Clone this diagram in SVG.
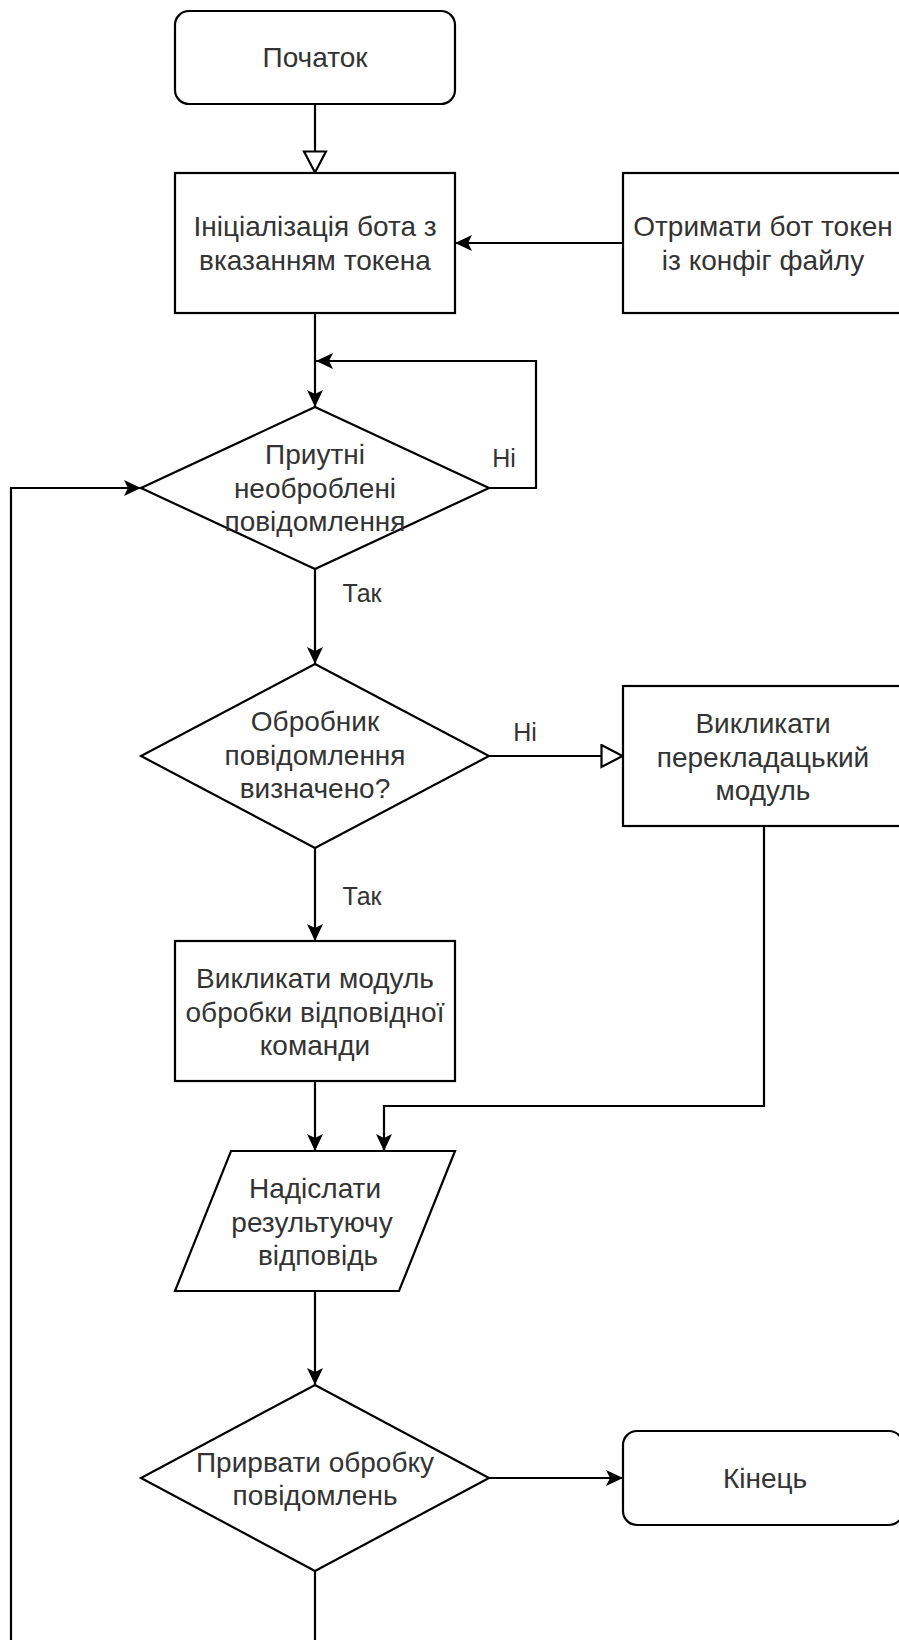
<svg xmlns="http://www.w3.org/2000/svg" width="899" height="1640" viewBox="0 0 899 1640">
<defs>
<style>
.shape{fill:#fff;stroke:#000;stroke-width:2.2}
.t{font-family:"Liberation Sans",Arial,sans-serif;font-size:28px;fill:#333;text-anchor:middle}
.lbl{font-family:"Liberation Sans",Arial,sans-serif;font-size:25px;fill:#333;text-anchor:middle}
.edge{fill:none;stroke:#000;stroke-width:2.2}
</style>
<marker id="arr" markerUnits="userSpaceOnUse" markerWidth="18" markerHeight="17" refX="17" refY="8" orient="auto">
<path d="M0,0 L17,8 L0,16 L4,8 Z" fill="#000"/>
</marker>
<marker id="hollow" markerUnits="userSpaceOnUse" markerWidth="25" markerHeight="26" refX="23" refY="12.5" orient="auto">
<path d="M1.5,1.5 L22.5,12.5 L1.5,23.5 Z" fill="#fff" stroke="#000" stroke-width="2.2"/>
</marker>
</defs>
<rect width="899" height="1640" fill="#fff"/>

<g id="connectors">
<path class="edge" d="M315,104 L315,173" marker-end="url(#hollow)"/>
<path class="edge" d="M623,243 L455,243" marker-end="url(#arr)"/>
<path class="edge" d="M315,313 L315,407" marker-end="url(#arr)"/>
<path class="edge" d="M489,488 L536,488 L536,361 L316,361" marker-end="url(#arr)"/>
<path class="edge" d="M315,569 L315,664" marker-end="url(#arr)"/>
<path class="edge" d="M489,756 L623,756" marker-end="url(#hollow)"/>
<path class="edge" d="M315,848 L315,941" marker-end="url(#arr)"/>
<path class="edge" d="M315,1081 L315,1151" marker-end="url(#arr)"/>
<path class="edge" d="M764,826 L764,1106 L384,1106 L384,1151" marker-end="url(#arr)"/>
<path class="edge" d="M315,1291 L315,1385" marker-end="url(#arr)"/>
<path class="edge" d="M489,1478 L623,1478" marker-end="url(#arr)"/>
<path class="edge" d="M315,1571 L315,1660 L11,1660 L11,488 L141,488" marker-end="url(#arr)"/>
<text class="lbl" x="504" y="467">Ні</text>
<text class="lbl" x="362" y="602">Так</text>
<text class="lbl" x="525" y="741">Ні</text>
<text class="lbl" x="362" y="905">Так</text>
</g>

<g id="start">
<rect class="shape" x="175" y="11" width="280" height="93" rx="14" ry="14"/>
<text class="t" x="315" y="67">Початок</text>
</g>

<g id="init">
<rect class="shape" x="175" y="173" width="280" height="140"/>
<text class="t" x="315" y="236">Ініціалізація бота з</text>
<text class="t" x="315" y="270">вказанням токена</text>
</g>

<g id="token">
<rect class="shape" x="623" y="173" width="280" height="140"/>
<text class="t" x="763" y="236">Отримати бот токен</text>
<text class="t" x="763" y="270">із конфіг файлу</text>
</g>

<g id="check-messages">
<polygon class="shape" points="315,407 489,488 315,569 141,488"/>
<text class="t" x="315" y="464">Приутні</text>
<text class="t" x="315" y="498">необроблені</text>
<text class="t" x="315" y="531">повідомлення</text>
</g>

<g id="check-handler">
<polygon class="shape" points="315,664 489,756 315,848 141,756"/>
<text class="t" x="315" y="731">Обробник</text>
<text class="t" x="315" y="765">повідомлення</text>
<text class="t" x="315" y="798">визначено?</text>
</g>

<g id="translate">
<rect class="shape" x="623" y="686" width="280" height="140"/>
<text class="t" x="763" y="733">Викликати</text>
<text class="t" x="763" y="767">перекладацький</text>
<text class="t" x="763" y="800">модуль</text>
</g>

<g id="command">
<rect class="shape" x="175" y="941" width="280" height="140"/>
<text class="t" x="315" y="988">Викликати модуль</text>
<text class="t" x="315" y="1022">обробки відповідної</text>
<text class="t" x="315" y="1055">команди</text>
</g>

<g id="send">
<polygon class="shape" points="231,1151 455,1151 399,1291 175,1291"/>
<text class="t" x="315" y="1198">Надіслати</text>
<text class="t" x="312" y="1232">результуючу</text>
<text class="t" x="318" y="1265">відповідь</text>
</g>

<g id="stop-check">
<polygon class="shape" points="315,1385 489,1478 315,1571 141,1478"/>
<text class="t" x="315" y="1472">Прирвати обробку</text>
<text class="t" x="315" y="1505">повідомлень</text>
</g>

<g id="end">
<rect class="shape" x="623" y="1431" width="280" height="94" rx="14" ry="14"/>
<text class="t" x="765" y="1488">Кінець</text>
</g>
</svg>
